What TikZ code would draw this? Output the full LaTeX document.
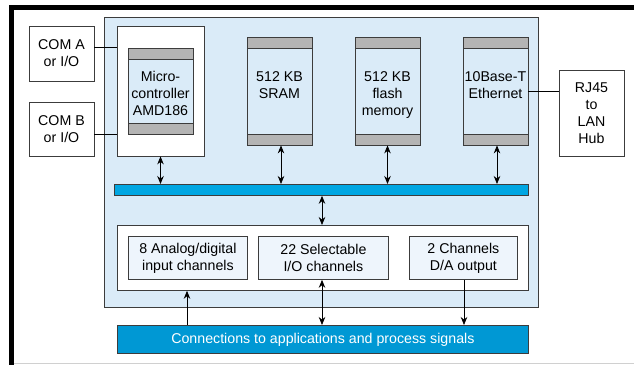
\documentclass[tikz,border=0pt]{standalone}
\usepackage{fontspec}
\setmainfont{Liberation Sans}
\usetikzlibrary{arrows.meta}
\definecolor{panel}{HTML}{DAEBF8}
\definecolor{inner}{HTML}{EEF5FC}
\definecolor{bordc}{HTML}{3C3C3C}
\definecolor{bandgray}{HTML}{B4B4B4}
\definecolor{busblue}{HTML}{00A6E2}
\definecolor{connblue}{HTML}{0098D4}
\definecolor{edgegray}{HTML}{D0D0D0}
\newcommand{\lblfont}{\fontsize{14.2}{17}\selectfont}
\tikzset{
  box/.style={draw=bordc, line width=0.8pt, rectangle, inner sep=0pt, align=center, font=\lblfont},
  chip/.style={box, fill=panel, minimum width=65pt,
    path picture={
      \fill[bandgray] (path picture bounding box.north west) rectangle ([yshift=-11pt]path picture bounding box.north east);
      \fill[bandgray] (path picture bounding box.south west) rectangle ([yshift=11pt]path picture bounding box.south east);
      \draw[bordc, line width=0.8pt] ([yshift=-11pt]path picture bounding box.north west) -- ([yshift=-11pt]path picture bounding box.north east);
      \draw[bordc, line width=0.8pt] ([yshift=11pt]path picture bounding box.south west) -- ([yshift=11pt]path picture bounding box.south east);
    }},
  lbl/.style={inner sep=0pt, align=center, font=\lblfont},
  dbl/.style={{Stealth[length=8pt,width=6.5pt]}-{Stealth[length=8pt,width=6.5pt]}, line width=0.8pt},
  sgl/.style={-{Stealth[length=8pt,width=6.5pt]}, line width=0.8pt},
  wire/.style={line width=0.8pt, draw=black}
}
\begin{document}
\begin{tikzpicture}[x=1pt,y=-1pt]
\useasboundingbox (0,0) rectangle (634,365);
% frame
\fill[black] (9,5) rectangle (634,10);
\fill[black] (9,5) rectangle (14,365);
\fill[edgegray] (14,362.5) rectangle (634,364);
% main panel
\node[box, fill=panel, minimum width=434pt, minimum height=290pt, anchor=north west] (panel) at (104,17) {};
% COM boxes
\node[box, fill=white, minimum width=65pt, minimum height=55pt] (coma) at (61.5,53.5) {COM A\\or I/O};
\node[box, fill=white, minimum width=65pt, minimum height=54pt] (comb) at (61.5,129) {COM B\\or I/O};
% microcontroller
\node[box, fill=white, minimum width=87pt, minimum height=130pt] (micro) at (160.5,91) {};
\node[chip, minimum height=86pt] (mchip) at (160.5,91) {};
\node[lbl, anchor=north] (mtext) at (160.5,71) {Micro-\\controller\\AMD186};
% memory chips
\node[chip, minimum height=108pt] (sram) at (279.5,91) {};
\node[lbl, anchor=north] (sramtext) at (279.5,71) {512 KB\\SRAM};
\node[chip, minimum height=108pt] (flash) at (387.5,91) {};
\node[lbl, anchor=north] (flashtext) at (387.5,71) {512 KB\\flash\\memory};
\node[chip, minimum height=108pt] (eth) at (495.5,91) {};
\node[lbl, anchor=north] (ethtext) at (495.5,71) {10Base-T\\Ethernet};
% RJ45
\node[box, fill=white, minimum width=65pt, minimum height=86pt] (rj) at (591.5,113) {RJ45\\to\\LAN\\Hub};
% bus
\node[box, fill=busblue, minimum width=414pt, minimum height=11pt, anchor=north west] (bus) at (114,184) {};
% IO box
\node[box, fill=white, minimum width=411pt, minimum height=65pt, anchor=north west] (io) at (117,225) {};
\node[box, fill=inner, minimum width=119pt, minimum height=43pt, anchor=north west] (adc) at (128,236) {8 Analog/digital\\input channels};
\node[box, fill=inner, minimum width=130pt, minimum height=43pt, anchor=north west] (sel) at (258,236) {22 Selectable\\I/O channels};
\node[box, fill=inner, minimum width=108pt, minimum height=43pt, anchor=north west] (dac) at (409,236) {2 Channels\\D/A output};
% connections bar
\node[box, fill=connblue, text=white, minimum width=411pt, minimum height=28pt, anchor=north west] (conn) at (117,325) {Connections to applications and process signals};
% wires
\draw[wire] (coma.east |- mchip.north) -- (micro.west |- mchip.north);
\draw[wire] (comb.east |- mchip.south) -- (micro.west |- mchip.south);
\draw[wire] (eth.east) -- (rj.west |- eth.east);
% arrows
\draw[dbl] (micro.south) -- (micro.south |- bus.north);
\draw[dbl] ([xshift=1.5pt]sram.south) -- ([xshift=1.5pt]sram.south |- bus.north);
\draw[dbl] (flash.south) -- (flash.south |- bus.north);
\draw[dbl] ([xshift=1.5pt]eth.south) -- ([xshift=1.5pt]eth.south |- bus.north);
\draw[dbl] (bus.south -| 322,0) -- (io.north -| 322,0);
\draw[sgl] (conn.north -| 187,0) -- (io.south -| 187,0);
\draw[dbl] (sel.south -| 322,0) -- (conn.north -| 322,0);
\draw[sgl] (dac.south -| 464,0) -- (conn.north -| 464,0);
\end{tikzpicture}
\end{document}
